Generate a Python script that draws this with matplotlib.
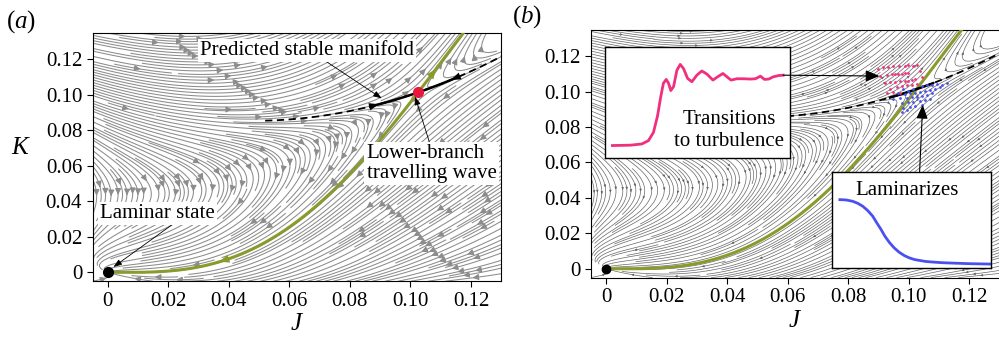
import numpy as np
import matplotlib
matplotlib.use('Agg')
import matplotlib.pyplot as plt

plt.rcParams['font.family'] = ['Liberation Serif', 'DejaVu Serif']
plt.rcParams['mathtext.fontset'] = 'custom'
plt.rcParams['mathtext.rm'] = 'Liberation Serif'
plt.rcParams['mathtext.it'] = 'Liberation Serif:italic'

# green curve (unstable manifold of the lower-branch wave)
green_J = [0.0, 0.02, 0.042, 0.0586, 0.0696, 0.0806, 0.0916, 0.1013, 0.1147]
green_K = [0.0, 0.003, 0.0115, 0.0237, 0.036, 0.0539, 0.080, 0.1012, 0.1273]
# dashed predicted stable manifold
dash_J = [0.052, 0.0899, 0.1013, 0.113, 0.1296]
dash_K = [0.0854, 0.0948, 0.1012, 0.1074, 0.1215]
# rates of the model flow (attraction to green, repulsion from the manifold)
mu, nu = 1.0, 1.8

ticks = [0, 0.02, 0.04, 0.06, 0.08, 0.10, 0.12]
tick_labels = ['0', '0.02', '0.04', '0.06', '0.08', '0.10', '0.12']

# inset time series (inset units 0..1)
pink_t = [0.040, 0.136, 0.199, 0.235, 0.262, 0.284, 0.302, 0.316, 0.331, 0.344, 0.356,
          0.371, 0.389, 0.407, 0.425, 0.447, 0.470, 0.497, 0.524, 0.552, 0.584, 0.609,
          0.638, 0.660, 0.682, 0.714, 0.750, 0.787, 0.814, 0.841, 0.863, 0.886, 0.910,
          0.940, 0.964]
pink_y = [0.112, 0.115, 0.126, 0.156, 0.229, 0.376, 0.553, 0.671, 0.706, 0.671, 0.606,
          0.641, 0.788, 0.841, 0.803, 0.715, 0.685, 0.744, 0.782, 0.753, 0.700, 0.729,
          0.759, 0.729, 0.700, 0.712, 0.712, 0.709, 0.712, 0.735, 0.706, 0.709, 0.729,
          0.741, 0.744]
blue_t = [0.050, 0.088, 0.130, 0.161, 0.193, 0.224, 0.256, 0.281, 0.308, 0.333, 0.361,
          0.392, 0.423, 0.455, 0.486, 0.518, 0.549, 0.591, 0.633, 0.696, 0.759, 0.864, 0.994]
blue_y = [0.712, 0.709, 0.695, 0.675, 0.644, 0.600, 0.541, 0.473, 0.404, 0.332, 0.267,
          0.209, 0.164, 0.130, 0.106, 0.089, 0.079, 0.068, 0.062, 0.055, 0.051, 0.045, 0.041]

# initial conditions near the wave
turb_J = [0.0897, 0.0914, 0.0933, 0.0949, 0.0969, 0.0988, 0.0999, 0.1013, 0.1026,
          0.0905, 0.0927, 0.0944, 0.0955, 0.0966, 0.0977, 0.0988, 0.0999, 0.1037,
          0.0922, 0.0938, 0.0955, 0.0971, 0.0988, 0.0999, 0.1010, 0.1021, 0.1043,
          0.0938, 0.0960, 0.0977, 0.0993, 0.1010, 0.1026, 0.0927, 0.0949, 0.0971]
turb_K = [0.1126, 0.1137, 0.1141, 0.1143, 0.1145, 0.1146, 0.1150, 0.1146, 0.1150,
          0.1088, 0.1094, 0.1099, 0.1099, 0.1099, 0.1099, 0.1103, 0.1103, 0.1118,
          0.1047, 0.1052, 0.1056, 0.1062, 0.1060, 0.1062, 0.1066, 0.1069, 0.1084,
          0.1013, 0.1024, 0.1032, 0.1035, 0.1039, 0.1043, 0.0990, 0.0999, 0.0990]
lam_J = [0.0982, 0.0999, 0.1015, 0.1043, 0.1059, 0.1076, 0.1092, 0.1109, 0.1125,
         0.0966, 0.0988, 0.1004, 0.1021, 0.1037, 0.1054, 0.1070, 0.1087, 0.1103,
         0.0949, 0.0971, 0.0993, 0.1010, 0.1026, 0.1043, 0.1059, 0.1076,
         0.0977, 0.0999, 0.1015, 0.1037, 0.1054, 0.1070,
         0.0982, 0.1004, 0.1021, 0.1043, 0.0977, 0.0993]
lam_K = [0.1013, 0.1005, 0.1017, 0.1032, 0.1035, 0.1039, 0.1043, 0.1039, 0.1047,
         0.0990, 0.0986, 0.0990, 0.0994, 0.0998, 0.1001, 0.1009, 0.1013, 0.1024,
         0.0956, 0.0962, 0.0962, 0.0968, 0.0971, 0.0975, 0.0981, 0.0990,
         0.0937, 0.0943, 0.0943, 0.0949, 0.0953, 0.0960,
         0.0906, 0.0915, 0.0919, 0.0924, 0.0887, 0.0896]

GREEN = '#8a9a2c'
RED = '#e8173e'
PINK = '#f0307f'
BLUE = '#4a50f0'

# smooth fits of the two manifolds
gJ = np.array(green_J)
cf = np.linalg.lstsq(np.column_stack([gJ**2, gJ**3, gJ**4]), np.array(green_K), rcond=None)[0]
f = lambda J: cf[0]*J**2 + cf[1]*J**3 + cf[2]*J**4
fp = lambda J: 2*cf[0]*J + 3*cf[1]*J**2 + 4*cf[2]*J**3
s = np.poly1d(np.polyfit(dash_J, dash_K, 2))
sp = s.deriv()

Jt = np.linspace(0.08, 0.12, 4001)
Js = Jt[np.argmin(np.abs(s(Jt) - f(Jt)))]
Ks = f(Js)


def field(JJ, KK):
    # u = 0 on the green curve, v = 0 on the stable manifold
    u = KK - f(JJ)
    v = KK - s(JJ)
    vo = -s(0.0)
    du = -mu * u
    dv = nu * v * (1 - v / vo)
    dJ = (du - dv) / (sp(JJ) - fp(JJ))
    dK = du + fp(JJ) * dJ
    return dJ, dK


xg = np.linspace(-0.005, 0.13, 240)
yg = np.linspace(-0.005, 0.135, 240)
XX, YY = np.meshgrid(xg, yg)
UU, VV = field(XX, YY)

fig = plt.figure(figsize=(9.99, 3.42), dpi=100)
axa = fig.add_axes([0.0927, 0.1778, 0.4091, 0.7266])
axb = fig.add_axes([0.5915, 0.1883, 0.4091, 0.7251])

for ax in (axa, axb):
    ax.set_xlim(-0.005, 0.13)
    ax.set_ylim(-0.005, 0.135)
    ax.set_xticks(ticks)
    ax.set_xticklabels(tick_labels)
    ax.set_yticks(ticks)
    ax.set_yticklabels(tick_labels)
    ax.tick_params(labelsize=15, direction='out', length=4, width=0.8)
    for sp_ in ax.spines.values():
        sp_.set_linewidth(0.8)
    ax.set_xlabel('$J$', fontsize=18, labelpad=2)

# ---- panel (a)
axa.streamplot(xg, yg, UU, VV, density=3.2, color='#8c8c8c', linewidth=0.75,
               arrowsize=0.9, arrowstyle='-|>')
Jg = np.linspace(0, 0.125, 300)
axa.plot(Jg, f(Jg), color=GREEN, lw=2.2, zorder=4)
for a0, a1 in [(0.041, 0.036), (0.105, 0.109)]:
    axa.annotate('', xy=(a1, f(a1)), xytext=(a0, f(a0)),
                 arrowprops=dict(arrowstyle='-|>,head_length=0.6,head_width=0.25',
                                 color=GREEN, lw=0, mutation_scale=12), zorder=5)
Jd = np.linspace(0.052, 0.13, 200)
axa.plot(Jd, s(Jd), color='k', lw=1.3, ls=(0, (4, 2.5)), zorder=5)
Jso = np.linspace(0.0867, 0.1153, 100)
axa.plot(Jso, s(Jso), color='k', lw=1.8, zorder=5)
for a0, a1 in [(0.086, 0.0905), (0.117, 0.1125)]:
    axa.annotate('', xy=(a1, s(a1)), xytext=(a0, s(a0)),
                 arrowprops=dict(arrowstyle='-|>,head_length=0.6,head_width=0.22',
                                 color='k', lw=0, mutation_scale=12), zorder=6)
axa.plot(0, 0, 'o', color='k', ms=7, zorder=7)
axa.plot(Js, Ks, 'o', color=RED, ms=7, zorder=7)

thin = dict(arrowstyle='-|>,head_length=0.5,head_width=0.18', color='k', lw=0.6,
            mutation_scale=10, shrinkA=0, shrinkB=0)
box = dict(facecolor='white', edgecolor='none', pad=1.5)
axa.annotate('', xy=(0.0905, 0.098), xytext=(0.0702, 0.121), arrowprops=thin, zorder=6)
axa.text(0.0305, 0.1252, 'Predicted stable manifold', fontsize=15, va='center',
         ha='left', bbox=box, zorder=8)
axa.annotate('', xy=(0.1015, 0.099), xytext=(0.1065, 0.072), arrowprops=thin, zorder=6)
axa.text(0.0855, 0.0614, 'Lower-branch\ntravelling wave', fontsize=15, va='center',
         ha='left', bbox=box, zorder=8, linespacing=1.05)
axa.annotate('', xy=(0.0019, 0.003), xytext=(0.0222, 0.028), arrowprops=thin, zorder=6)
axa.text(-0.0025, 0.0332, 'Laminar state', fontsize=15, va='center', ha='left',
         bbox=box, zorder=8)
axa.set_ylabel('$K$', fontsize=18, rotation=0)
axa.yaxis.set_label_coords(-0.175, 0.49)

# ---- panel (b)
axb.streamplot(xg, yg, UU, VV, density=4.0, color='#666666', linewidth=0.5,
               arrowsize=0.3, arrowstyle='-|>')
axb.plot(Jg, f(Jg), color=GREEN, lw=2.2, zorder=4)
axb.plot(Jd, s(Jd), color='k', lw=1.3, ls=(0, (4, 2.5)), zorder=5)
Jso = np.linspace(0.0938, 0.108, 60)
axb.plot(Jso, s(Jso), color='k', lw=1.8, zorder=5)
axb.plot(0, 0, 'o', color='k', ms=6, zorder=7)
axb.scatter(turb_J, turb_K, s=4, color=PINK, zorder=6, linewidths=0)
axb.scatter(lam_J, lam_K, s=4, color=BLUE, zorder=6, linewidths=0)
axb.annotate('', xy=(0.1046, 0.0925), xytext=(0.1035, 0.052),
             arrowprops=dict(arrowstyle='-|>,head_length=0.6,head_width=0.25', color='k',
                             lw=0.8, mutation_scale=14, shrinkA=0, shrinkB=0), zorder=8)

ins1 = fig.add_axes([0.6056, 0.538, 0.185, 0.3255])
ins1.plot(pink_t, pink_y, color=PINK, lw=2)
ins1.text(0.673, 0.244, 'Transitions\nto turbulence', fontsize=15, ha='center', va='center')
ins1.annotate('', xy=(0.0903, 0.1088), xycoords=axb.transData, xytext=(0.964, 0.744),
              textcoords='data', annotation_clip=False,
              arrowprops=dict(arrowstyle='-|>,head_length=0.6,head_width=0.25', color='k',
                              lw=0.8, mutation_scale=14, shrinkA=0, shrinkB=0))

ins2 = fig.add_axes([0.8328, 0.2164, 0.159, 0.2807])
ins2.plot(blue_t, blue_y, color=BLUE, lw=2)
ins2.text(0.47, 0.81, 'Laminarizes', fontsize=15, ha='center', va='center')

for ins in (ins1, ins2):
    ins.set_xlim(0, 1)
    ins.set_ylim(0, 1)
    ins.set_xticks([])
    ins.set_yticks([])
    for sp_ in ins.spines.values():
        sp_.set_linewidth(1.0)

fig.text(0.006, 1 - 22 / 342, '$(a)$', fontsize=18, va='center', ha='left')
fig.text(0.513, 1 - 17 / 342, '$(b)$', fontsize=18, va='center', ha='left')

fig.savefig('out.png', dpi=100)
